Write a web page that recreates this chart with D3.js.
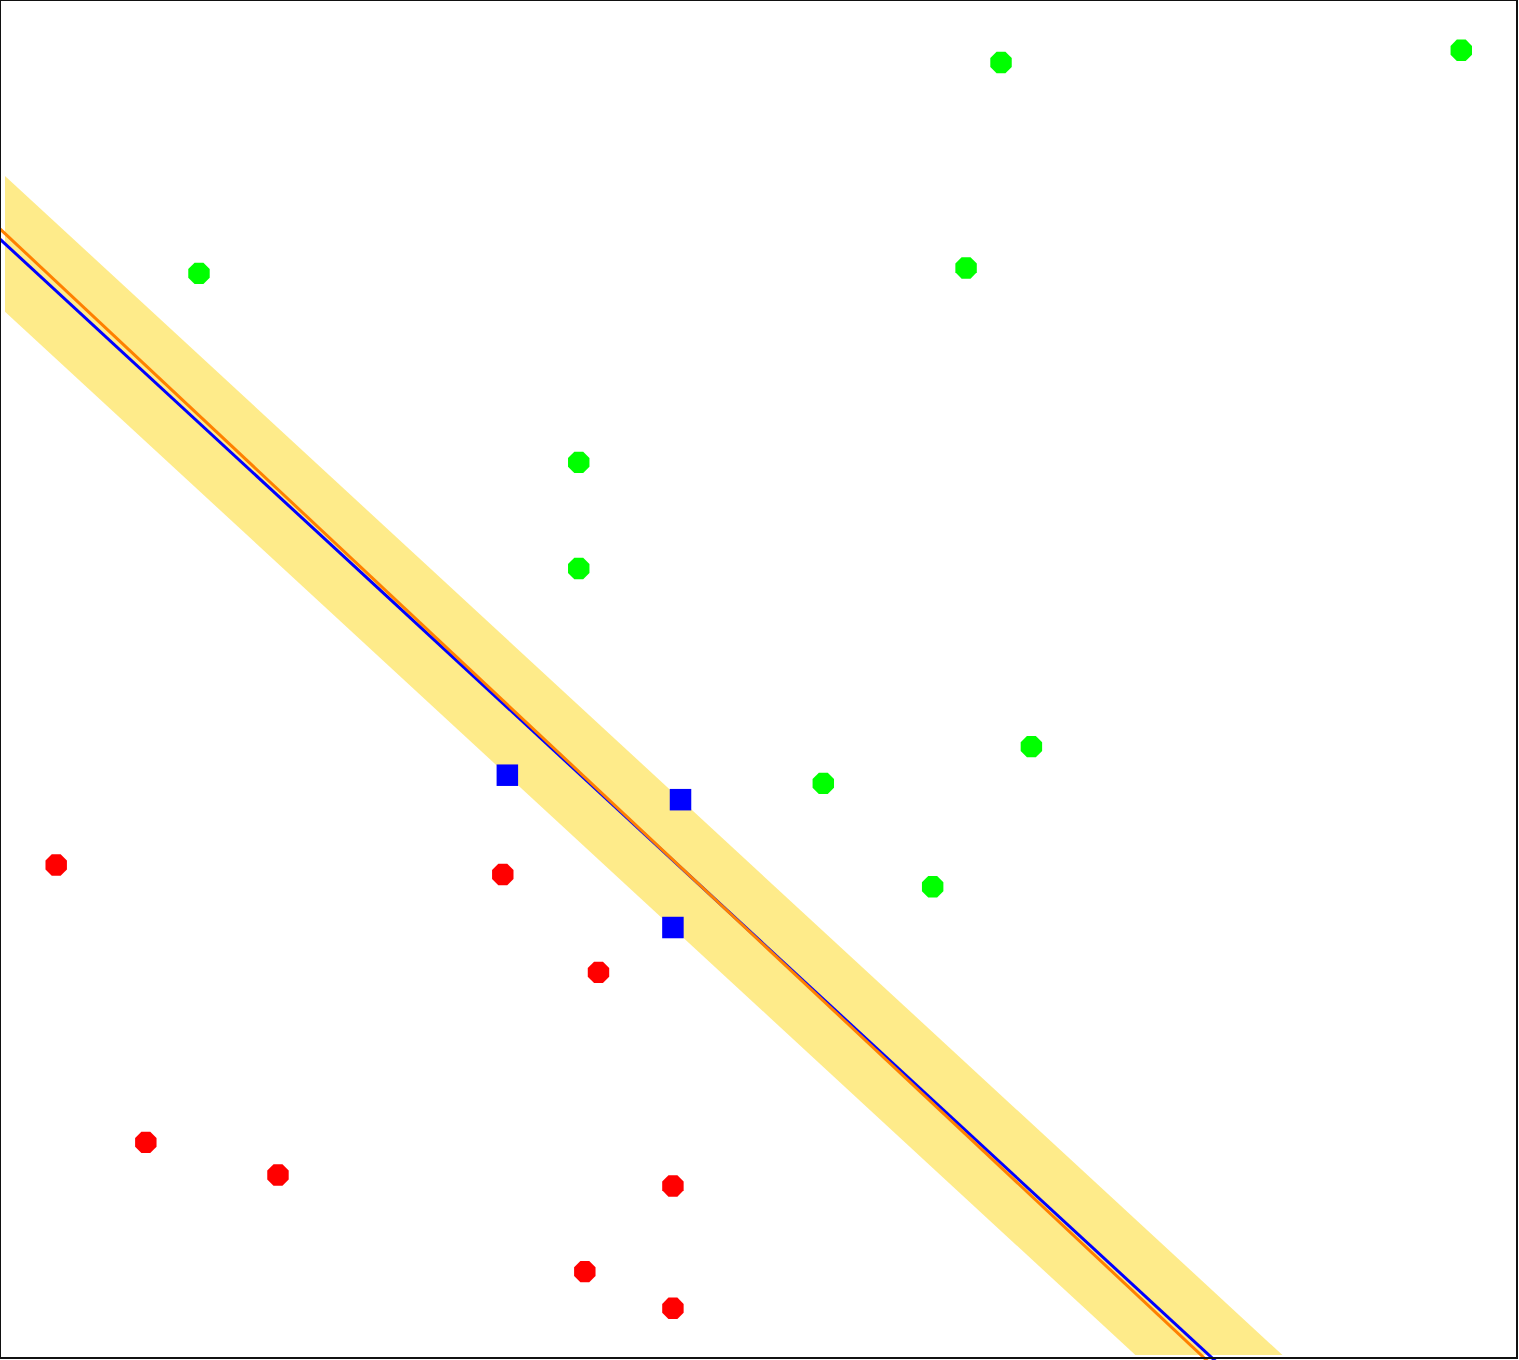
<!DOCTYPE html>
<html>
<head>
  <style type="text/css">
    body { margin: 0; background: white; }
    svg { display: block; }
  </style>
</head>

<body>
  <svg width="1519" height="1360" id="svm"></svg>

  <script src="https://d3js.org/d3.v7.min.js"></script>

  <script>

// class A (green) points, data units
let greenX = [6.59, 9.62, 1.31, 6.36, 3.81, 3.81, 6.79, 5.42, 6.14]
let greenY = [9.54, 9.63, 7.99, 8.03, 6.60, 5.82, 4.51, 4.24, 3.48]

// class B (red) points
let redX = [0.37, 3.31, 3.94, 0.96, 1.83, 4.43, 3.85, 4.43]
let redY = [3.64, 3.57, 2.85, 1.60, 1.36, 1.28, 0.65, 0.38]

// support vectors
let svX = [3.34, 4.48, 4.43]
let svY = [4.30, 4.12, 3.18]

// max-margin separator  w.x + b = 0, margins at +-1
let svmW = [2.066, 2.004]
let svmB = -16.516

// second separator (drawn in orange)
let lineW = [1.0472, 1]
let lineB = -8.317

document.addEventListener('DOMContentLoaded', () => {
  let width = 1519, height = 1360
  let svg = d3.select('#svm')

  let x = d3.scaleLinear().domain([0, 10]).range([0, width])
  let y = d3.scaleLinear().domain([0, 10]).range([height, 0])

  // y on the line w.x + b = k, for a given x
  function lineY(w, b, k, xv) { return (k - b - w[0] * xv) / w[1] }

  let xs = x.domain()
  let line = d3.line().x(d => x(d[0])).y(d => y(d[1]))

  svg.append('defs').append('clipPath')
      .attr('id', 'inner')
    .append('rect')
      .attr('x', 5)
      .attr('y', 5)
      .attr('width', width - 10)
      .attr('height', height - 10)

  // margin band between the -1 and +1 lines
  let band = [
    [xs[0], lineY(svmW, svmB, 1, xs[0])],
    [xs[1], lineY(svmW, svmB, 1, xs[1])],
    [xs[1], lineY(svmW, svmB, -1, xs[1])],
    [xs[0], lineY(svmW, svmB, -1, xs[0])]
  ]
  svg.append('path')
    .datum(band)
    .attr('clip-path', 'url(#inner)')
    .attr('fill', '#feeb8a')
    .attr('d', d => line(d) + 'Z')

  svg.append('path')
    .datum(xs.map(v => [v, lineY(svmW, svmB, 0, v)]))
    .attr('fill', 'none')
    .attr('stroke', '#0000ff')
    .attr('stroke-width', 3)
    .attr('d', line)

  svg.append('path')
    .datum(xs.map(v => [v, lineY(lineW, lineB, 0, v)]))
    .attr('fill', 'none')
    .attr('stroke', '#ff8000')
    .attr('stroke-width', 3)
    .attr('d', line)

  // octagon marker, like a coarse circle
  function octagon(r) {
    let pts = d3.range(8).map(i => {
      let a = Math.PI / 8 + i * Math.PI / 4
      return [r * Math.cos(a), r * Math.sin(a)]
    })
    return 'M' + pts.map(p => p.join(',')).join('L') + 'Z'
  }

  function dots(xv, yv, color) {
    svg.append('g').selectAll('path')
      .data(d3.zip(xv, yv))
      .join('path')
        .attr('transform', d => 'translate(' + x(d[0]) + ',' + y(d[1]) + ')')
        .attr('fill', color)
        .attr('d', octagon(11.6))
  }

  dots(greenX, greenY, '#00ff00')
  dots(redX, redY, '#ff0000')

  let s = 21.5
  svg.append('g').selectAll('rect')
    .data(d3.zip(svX, svY))
    .join('rect')
      .attr('x', d => x(d[0]) - s / 2)
      .attr('y', d => y(d[1]) - s / 2)
      .attr('width', s)
      .attr('height', s)
      .attr('fill', '#0000ff')

  svg.append('rect')
    .attr('x', 0)
    .attr('y', 0)
    .attr('width', width - 2)
    .attr('height', height - 2)
    .attr('fill', 'none')
    .attr('stroke', '#111')
    .attr('stroke-width', 2)
})

  </script>
</body>
</html>
